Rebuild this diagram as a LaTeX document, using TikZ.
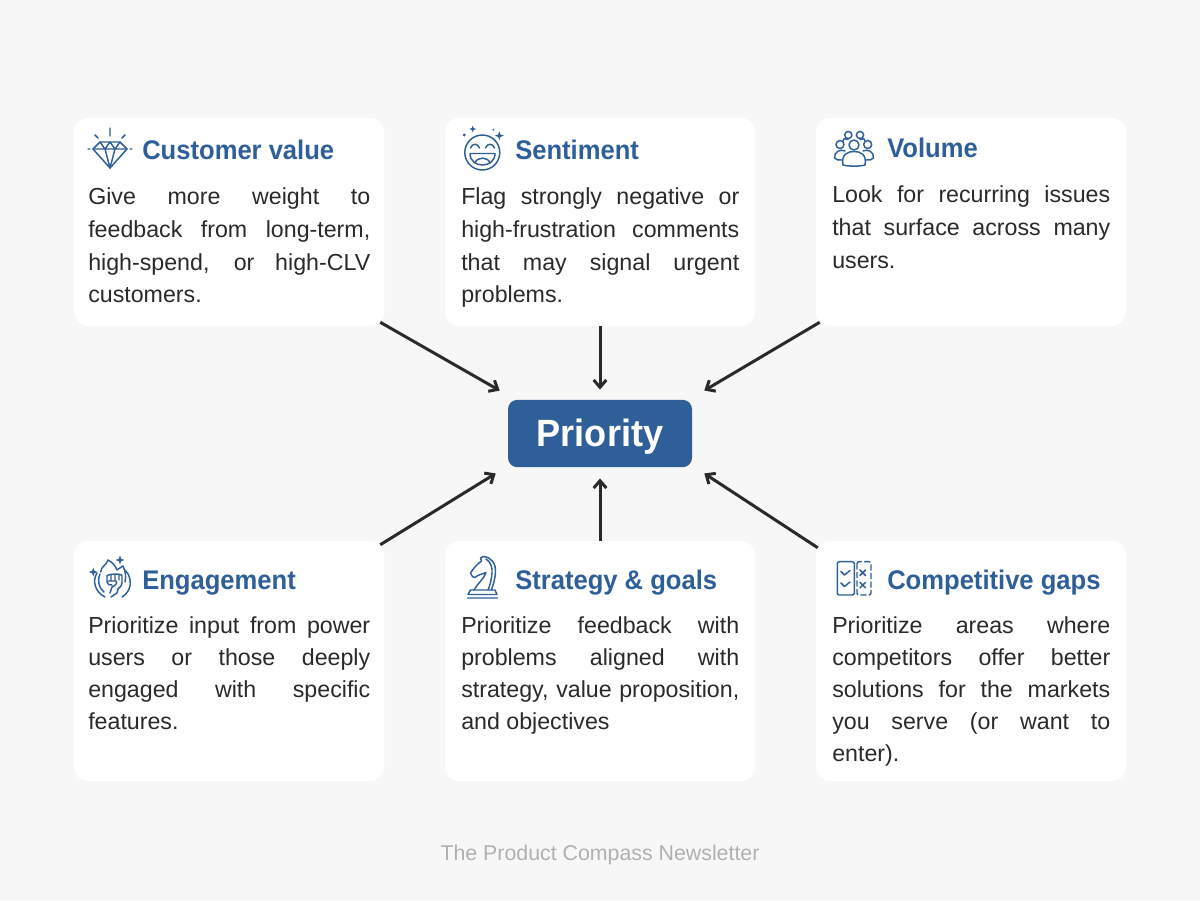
\documentclass[tikz,border=0pt]{standalone}
\usepackage{fontspec}
\usetikzlibrary{calc,arrows.meta}
\setmainfont{Liberation Sans}
\newfontfamily\headfont[FakeStretch=0.95]{Liberation Sans}
\definecolor{pgbg}{HTML}{F7F7F7}
\definecolor{brand}{HTML}{2E5F99}
\definecolor{ink}{HTML}{2A2A2A}
\definecolor{foot}{HTML}{B0B0B0}
\newcommand\bodyfirst{\rule{0pt}{14pt}}
\newcommand\sparkle[3]{\fill[brand,shift={(#1,#2)},scale=#3] (0,-1)--(.25,-.25)--(1,0)--(.25,.25)--(0,1)--(-.25,.25)--(-1,0)--(-.25,-.25)--cycle;}
\tikzset{
  x=0.75pt,y=-0.75pt,
  cardtop/.style={fill=white,draw=none,rounded corners=10.5pt,minimum width=232.5pt,minimum height=156pt,inner sep=0pt},
  cardbot/.style={cardtop,minimum height=180pt},
  headline/.style={anchor=base west,inner sep=0pt,text=brand,font=\headfont\fontsize{20.2}{24}\selectfont\bfseries},
  bodytop/.style={anchor=north west,inner sep=0pt,text=ink,text width=208.5pt,align=justify,font=\fontsize{17.4}{24.5}\selectfont},
  bodybot/.style={bodytop,font=\fontsize{17.4}{24}\selectfont},
  bodywide/.style={text width=211.5pt},
  arr/.style={draw=ink,line width=2.25pt,-{Straight Barb[length=5.5pt,width=9.5pt,line width=2.25pt]}},
  icon/.style={draw=brand,line width=1.1pt,line cap=round,line join=round,fill=none},
}
\begin{document}
\begin{tikzpicture}
\useasboundingbox (0,0) rectangle (1200,900);
\fill[pgbg] (0,0) rectangle (1200,900);
% cards
\node[cardtop] (cv) at (229,222) {};
\node[cardtop] (se) at (600,222) {};
\node[cardtop] (vo) at (971,222) {};
\node[cardbot] (en) at (229,661) {};
\node[cardbot] (st) at (600,661) {};
\node[cardbot] (co) at (971,661) {};
% centre
\node[fill=brand,text=white,rounded corners=7pt,minimum width=138pt,minimum height=50.5pt,inner sep=0pt,font=\headfont\fontsize{28.5}{32}\selectfont\bfseries] (pri) at (600,433.5) {\raisebox{-10pt}[0pt][0pt]{Priority}};
% headings
\node[headline] (h1) at (142,159) {Customer value};
\node[headline] (h2) at (515,159) {Sentiment};
\node[headline] (h3) at (887,157) {Volume};
\node[headline] (h4) at (142,589) {Engagement};
\node[headline] (h5) at (515,589) {Strategy \& goals};
\node[headline] (h6) at (887,589) {Competitive gaps};
% bodies
\node[bodytop,bodywide] (b1) at (88,186) {\bodyfirst Give more weight to\linebreak feedback from long-term,\linebreak high-spend, or high-CLV\linebreak customers.};
\node[bodytop] (b2) at (461,186) {\bodyfirst Flag strongly negative or\linebreak high-frustration comments\linebreak that may signal urgent\linebreak problems.};
\node[bodytop] (b3) at (832,184) {\bodyfirst Look for recurring issues\linebreak that surface across many\linebreak users.};
\node[bodybot,bodywide] (b4) at (88,615) {\bodyfirst Prioritize input from power\linebreak users or those deeply\linebreak engaged with specific\linebreak features.};
\node[bodybot] (b5) at (461,615) {\bodyfirst Prioritize feedback with\linebreak problems aligned with\linebreak strategy, value proposition,\linebreak and objectives};
\node[bodybot] (b6) at (832,615) {\bodyfirst Prioritize areas where\linebreak competitors offer better\linebreak solutions for the markets\linebreak you serve (or want to\linebreak enter).};
% footer
\node[text=foot,inner sep=0pt,font=\fontsize{16}{18}\selectfont] (ft) at (600,855) {The Product Compass Newsletter};
% arrows
\draw[arr] ($(cv.south east)+(-4,-4)$) -- ($(pri.north west)+(-8,-9)$);
\draw[arr] (se.south) -- ($(pri.north)+(0,-10)$);
\draw[arr] ($(vo.south west)+(4,-4)$) -- ($(pri.north east)+(12,-9)$);
\draw[arr] ($(en.north east)+(-4,4)$) -- ($(pri.south west)+(-12,6)$);
\draw[arr] (st.north) -- ($(pri.south)+(0,11)$);
\draw[arr] ($(co.north west)+(2,7)$) -- ($(pri.south east)+(12,6)$);
% diamond icon
\draw[icon] (100,142)--(120,142)--(127,149)--(110,168)--(93,149)--cycle;
\draw[icon] (93,149)--(127,149) (100,142)--(105,149)--(110,142)--(115,149)--(120,142) (105,149)--(110,168)--(115,149);
\draw[icon] (110,128)--(110,136) (95,135)--(98,138) (125,135)--(122,138) (88,149)--(90,149) (130,149)--(132,149);
% smiley icon
\draw[icon] (482.3,152.5) circle (17.5);
\draw[icon] (470.5,148) .. controls (472,143) and (478,143) .. (479.5,148);
\draw[icon] (485.5,148) .. controls (487,143) and (493,143) .. (494.5,148);
\draw[icon] (470,153.5)--(495,153.5) .. controls (495,161) and (489,165) .. (482.5,165) .. controls (476,165) and (470,161) .. (470,153.5);
\draw[icon] (475,163) .. controls (477,156.5) and (488,156.5) .. (490,163);
\fill[brand] (464.3,135) circle (1.6) (493.3,129.7) circle (1);
\sparkle{472.7}{129}{3.6}
\sparkle{499.3}{135.7}{4.6}
% people icon
\draw[icon] (848.3,135) circle (3.6) (860,135) circle (3.6) (840,144.5) circle (4) (867.7,144.5) circle (4) (854,145) circle (5);
\draw[icon] (843,165) .. controls (841,154) and (848,151.5) .. (854,151.5) .. controls (860,151.5) and (867,154) .. (865,165) .. controls (860,166.5) and (848,166.5) .. (843,165);
\draw[icon] (845,151) .. controls (840,148.5) and (834,152) .. (834.5,158) .. controls (836,160) and (839,160.5) .. (842,160);
\draw[icon] (863,151) .. controls (868,148.5) and (874,152) .. (873.5,158) .. controls (872,160) and (869,160.5) .. (866,160);
\draw[icon] (843,141) .. controls (844,137) and (845,139.5) .. (848,139.5) (865,141) .. controls (864,137) and (863,139.5) .. (860,139.5);
% fire and fist icon
\draw[icon] (100.7,572) .. controls (101,566) and (107,565) .. (108,560) .. controls (113,563) and (115,565) .. (117,570) .. controls (119,569) and (122,566) .. (123,566) .. controls (126,572) and (126,577) .. (125,582);
\draw[icon] (97,573) .. controls (92,581) and (95,592) .. (105,597);
\draw[icon] (100,574) .. controls (97,581) and (99,588) .. (104,592);
\draw[icon] (125,570) .. controls (133,578) and (132,591) .. (122,597);
\draw[icon] (107,576) .. controls (107,574) and (122,573) .. (122,576) -- (122,582) .. controls (122,586) and (120,587) .. (118,589) -- (117,593) -- (111,597);
\draw[icon] (107,576)--(107,582) .. controls (107,585) and (110,585) .. (112,585) (111,574.5)--(111,580) (115,574.5)--(115,580) (119,574.5)--(119,580) (107,581)--(116,581) .. controls (118,583) and (115,586) .. (112,587) (112,587)--(110,593);
\sparkle{93.3}{572}{4.6}
\sparkle{120}{560}{4.6}
% knight icon
\draw[icon] (470,590)--(495,590) (467.5,598)--(497.5,598) (470.5,590)--(468,594.5)--(497,594.5)--(495,590);
\draw[icon] (483,556.5) .. controls (491,557) and (496,563) .. (495.5,572) .. controls (495,580) and (493,585) .. (491.5,590);
\draw[icon] (483,556.5) -- (480.5,558) -- (481.5,561) .. controls (477,564) and (473,569) .. (470.5,573) .. controls (472,576) and (473,578) .. (475,577.5) .. controls (478,574.5) and (483,574) .. (486,572.5) .. controls (484,579) and (477,584) .. (474,590);
\draw[icon] (486,559) .. controls (491,562) and (492.5,568) .. (492,573) .. controls (491.5,580) and (490,585) .. (488,590);
% checklist icon
\draw[icon,rounded corners=1.5pt] (854.3,561.7) rectangle (837.3,595);
\draw[icon,rounded corners=1.5pt,dash pattern=on 4pt off 2.4pt] (857,561.7) rectangle (871,595);
\draw[icon] (841,571.5)--(844.5,575)--(850,570.5) (841,583)--(844.5,586.5)--(850,582);
\draw[icon] (860,570)--(865.5,575.5) (865.5,570)--(860,575.5) (860,582.3)--(865.5,587.8) (865.5,582.3)--(860,587.8);
\end{tikzpicture}
\end{document}
